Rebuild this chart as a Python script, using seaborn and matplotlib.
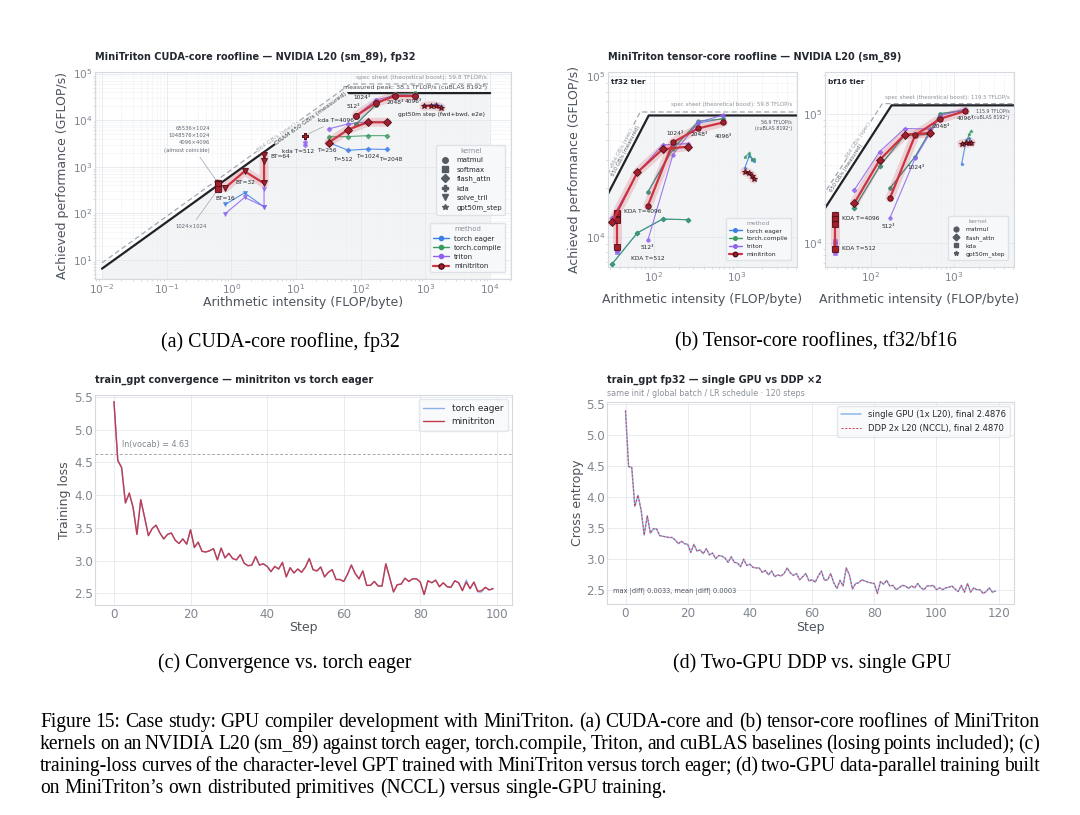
#!/usr/bin/env python3
"""
Figure 15 of the MiniTriton case study, redrawn.

(a) CUDA-core roofline (fp32), (b) tensor-core rooflines (tf32 / bf16),
(c) training loss minitriton vs torch eager, (d) single GPU vs DDP x2,
plus the sub-captions and the figure caption underneath.
"""

import math

import matplotlib

matplotlib.use("Agg")  # headless

import matplotlib.pyplot as plt
import seaborn as sns
from matplotlib.lines import Line2D

# ------------------------------------------------------------------ data
# (a) CUDA-core roofline, fp32 -- intensity in FLOP/byte, perf in GFLOP/s
A_BW_SPEC, A_BW_MEAS = 864, 650
A_PEAK_SPEC, A_PEAK_MEAS = 59800, 38100

A_SOFTMAX_AI = [0.625, 0.625, 0.625, 0.625]
A_SOFTMAX_MINI = [445, 430, 418, 330]

A_TRIL_AI = [0.8, 1.6, 3.2, 3.2, 3.2]
A_TRIL_MINI = [352, 800, 440, 1300, 1800]
A_TRIL_EAGER_AI = [0.8, 1.6, 3.2]
A_TRIL_EAGER = [155, 275, 138]
A_TRIL_TRITON_AI = [0.8, 1.6, 3.2, 3.2]
A_TRIL_TRITON = [98, 220, 140, 330]

A_KDA_AI = [13.7, 13.7]
A_KDA_MINI = [4550, 4650]
A_KDA_TRITON = [3400, 3000]

A_FA_AI = [32, 64, 128, 256]
A_FA_MINI = [3300, 6300, 9000, 9000]
A_FA_EAGER = [3300, 2250, 2400, 2350]
A_FA_COMPILE = [4400, 4450, 4650, 4650]
A_FA_TRITON = [6500, 8300, 9200, 9000]

A_MM_AI = [85.3, 170.7, 341.3, 682.7]
A_MM_MINI = [12500, 23500, 33000, 33000]
A_MM_EAGER = [8300, 21500, 36500, 37000]
A_MM_COMPILE = [8300, 21500, 37000, 37500]
A_MM_TRITON = [12600, 27000, 34000, 34000]

A_GPT_AI = [950, 1200, 1450, 1750]
A_GPT_MINI = [19800, 20500, 20000, 18500]
A_GPT_EAGER = [21000, 21200, 22000, 20500]

# (b) tensor-core rooflines
TF32_PEAK_SPEC, TF32_PEAK_MEAS = 59800, 56900
BF16_PEAK_SPEC, BF16_PEAK_MEAS = 119500, 115900

TF32_MM_AI = [85.3, 170.7, 341.3, 682.7]
TF32_MM_MINI = [15600, 38700, 47300, 51500]
TF32_MM_EAGER = [19000, 36000, 51000, 54500]
TF32_MM_COMPILE = [19000, 35000, 52600, 54100]
TF32_MM_TRITON = [9500, 32500, 51500, 57300]

TF32_FA_AI = [32, 64, 128, 256]
TF32_FA_MINI = [12400, 25200, 35100, 36400]
TF32_FA_EAGER = [6800, 10600, 12900, 12800]
TF32_FA_COMPILE = [6800, 10600, 12900, 12800]
TF32_FA_TRITON = [13100, 25000, 37300, 38000]

TF32_KDA_AI = [37, 37, 37, 37]
TF32_KDA_MINI = [14000, 12900, 12700, 8600]
TF32_KDA_TRITON_AI = [37, 37]
TF32_KDA_TRITON = [8300, 8000]

TF32_GPT_AI = [1230, 1400, 1520, 1580]
TF32_GPT_MINI = [25500, 24800, 23900, 22900]
TF32_GPT_EAGER = [26700, 32000, 30500, 29500]
TF32_GPT_COMPILE = [31300, 33100, 30100, 30500]

BF16_MM_AI = [170.7, 341.3, 682.7, 1365.3]
BF16_MM_MINI = [22200, 68000, 91300, 105000]
BF16_MM_EAGER = [26500, 46400, 100000, 106000]
BF16_MM_COMPILE = [26500, 46400, 100000, 106000]
BF16_MM_TRITON = [15600, 45100, 96000, 109000]

BF16_FA_AI = [64, 128, 256, 512]
BF16_FA_MINI = [20300, 43700, 68900, 70500]
BF16_FA_EAGER = [18600, 39000, 68000, 69000]
BF16_FA_COMPILE = [18600, 39000, 68000, 69000]
BF16_FA_TRITON = [25700, 50700, 76700, 76000]

BF16_KDA_AI = [38, 38, 38, 38]
BF16_KDA_MINI = [16500, 15300, 14100, 9000]
BF16_KDA_TRITON_AI = [38, 38, 38]
BF16_KDA_TRITON = [10300, 9800, 8400]

BF16_GPT_AI = [1230, 1400, 1520, 1600]
BF16_GPT_MINI = [58500, 59000, 59500, 59500]
BF16_GPT_EAGER = [41000, 63000, 65000, 60000]
BF16_GPT_COMPILE = [58000, 60000, 70000, 73500]

# (c) train_gpt convergence, 100 steps
C_STEPS = list(range(100))
C_MINITRITON = [
    5.43, 4.53, 4.42, 3.88, 4.03, 3.81, 3.40, 3.93, 3.66, 3.38,
    3.49, 3.54, 3.42, 3.33, 3.40, 3.42, 3.31, 3.26, 3.33, 3.25,
    3.47, 3.20, 3.28, 3.14, 3.13, 3.15, 3.18, 3.01, 3.19, 3.04,
    3.11, 3.03, 3.01, 3.09, 2.96, 2.92, 2.93, 3.06, 2.93, 2.95,
    2.91, 2.83, 2.91, 2.87, 2.97, 2.75, 2.89, 2.81, 2.87, 2.82,
    2.90, 3.03, 2.86, 2.84, 2.90, 2.75, 2.82, 2.86, 2.71, 2.71,
    2.68, 2.79, 2.93, 2.80, 2.72, 2.84, 2.62, 2.62, 2.68, 2.61,
    2.61, 2.95, 2.74, 2.52, 2.63, 2.64, 2.73, 2.68, 2.72, 2.72,
    2.67, 2.48, 2.69, 2.66, 2.70, 2.60, 2.66, 2.60, 2.59, 2.69,
    2.66, 2.54, 2.67, 2.57, 2.67, 2.53, 2.54, 2.59, 2.55, 2.57,
]
C_EAGER = [
    5.43, 4.53, 4.42, 3.88, 4.03, 3.81, 3.40, 3.93, 3.66, 3.38,
    3.49, 3.54, 3.42, 3.33, 3.40, 3.42, 3.31, 3.26, 3.33, 3.25,
    3.47, 3.20, 3.28, 3.14, 3.13, 3.15, 3.18, 3.01, 3.19, 3.04,
    3.11, 3.03, 3.01, 3.09, 2.96, 2.92, 2.93, 3.06, 2.93, 2.95,
    2.91, 2.83, 2.91, 2.87, 2.97, 2.75, 2.89, 2.81, 2.87, 2.82,
    2.90, 3.03, 2.86, 2.84, 2.90, 2.75, 2.82, 2.86, 2.71, 2.71,
    2.68, 2.79, 2.93, 2.80, 2.72, 2.84, 2.62, 2.62, 2.68, 2.61,
    2.61, 2.95, 2.74, 2.52, 2.63, 2.64, 2.73, 2.68, 2.72, 2.72,
    2.67, 2.48, 2.69, 2.66, 2.70, 2.60, 2.66, 2.60, 2.59, 2.69,
    2.66, 2.54, 2.70, 2.57, 2.67, 2.52, 2.52, 2.59, 2.55, 2.57,
]
C_LN_VOCAB = 4.63

# (d) single GPU vs DDP x2, 120 steps
D_STEPS = list(range(120))
D_SINGLE = [
    5.39, 4.49, 4.48, 3.85, 4.03, 3.80, 3.39, 3.70, 3.42, 3.49,
    3.49, 3.38, 3.37, 3.36, 3.35, 3.35, 3.31, 3.25, 3.29, 3.25,
    3.24, 3.11, 3.24, 3.13, 3.15, 3.09, 3.17, 3.07, 3.10, 3.01,
    3.06, 3.05, 3.02, 2.95, 3.04, 2.95, 2.94, 2.88, 3.00, 2.90,
    2.92, 2.87, 2.86, 2.86, 2.79, 2.82, 2.75, 2.81, 2.72, 2.75,
    2.73, 2.77, 2.86, 2.78, 2.74, 2.77, 2.67, 2.72, 2.77, 2.65,
    2.67, 2.63, 2.73, 2.81, 2.66, 2.67, 2.77, 2.62, 2.53, 2.66,
    2.57, 2.86, 2.75, 2.52, 2.61, 2.62, 2.67, 2.65, 2.63, 2.62,
    2.61, 2.45, 2.64, 2.60, 2.66, 2.57, 2.58, 2.51, 2.54, 2.58,
    2.57, 2.53, 2.57, 2.54, 2.61, 2.54, 2.51, 2.57, 2.57, 2.58,
    2.51, 2.54, 2.51, 2.54, 2.55, 2.57, 2.52, 2.48, 2.58, 2.47,
    2.61, 2.47, 2.54, 2.51, 2.51, 2.45, 2.48, 2.54, 2.47, 2.4876,
]
D_DDP = [
    5.39, 4.49, 4.48, 3.85, 4.03, 3.80, 3.39, 3.70, 3.42, 3.49,
    3.49, 3.38, 3.37, 3.36, 3.35, 3.35, 3.31, 3.25, 3.29, 3.25,
    3.24, 3.11, 3.24, 3.13, 3.15, 3.09, 3.17, 3.07, 3.10, 3.01,
    3.06, 3.05, 3.02, 2.95, 3.04, 2.95, 2.94, 2.88, 3.00, 2.90,
    2.92, 2.87, 2.86, 2.86, 2.79, 2.82, 2.75, 2.81, 2.72, 2.75,
    2.73, 2.77, 2.86, 2.78, 2.74, 2.77, 2.67, 2.72, 2.77, 2.65,
    2.67, 2.63, 2.73, 2.81, 2.66, 2.67, 2.77, 2.62, 2.53, 2.66,
    2.57, 2.86, 2.75, 2.52, 2.61, 2.62, 2.67, 2.65, 2.63, 2.62,
    2.61, 2.45, 2.64, 2.60, 2.66, 2.57, 2.58, 2.51, 2.54, 2.58,
    2.57, 2.53, 2.57, 2.54, 2.61, 2.54, 2.51, 2.57, 2.57, 2.58,
    2.51, 2.54, 2.51, 2.54, 2.55, 2.57, 2.52, 2.48, 2.58, 2.47,
    2.61, 2.47, 2.54, 2.51, 2.51, 2.45, 2.48, 2.54, 2.47, 2.4870,
]

SUBCAPTIONS = [
    "(a) CUDA-core roofline, fp32",
    "(b) Tensor-core rooflines, tf32/bf16",
    "(c) Convergence vs. torch eager",
    "(d) Two-GPU DDP vs. single GPU",
]
CAPTION_LINES = [
    "Figure 15: Case study: GPU compiler development with MiniTriton. (a) CUDA-core and (b) tensor-core rooflines of MiniTriton",
    "kernels on an NVIDIA L20 (sm_89) against torch eager, torch.compile, Triton, and cuBLAS baselines (losing points included); (c)",
    "training-loss curves of the character-level GPT trained with MiniTriton versus torch eager; (d) two-GPU data-parallel training built",
    "on MiniTriton\u2019s own distributed primitives (NCCL) versus single-GPU training.",
]

# ------------------------------------------------------------------ style
C_EAGER_COL = "#3d7ee6"
C_COMPILE_COL = "#3a9a60"
C_TRITON_COL = "#8e63f0"
C_MINI_COL = "#cc3340"
C_MINI_FACE = "#a2202e"
C_MINI_EDGE = "#4d0e16"
METHOD_COLORS = {
    "torch eager": C_EAGER_COL,
    "torch.compile": C_COMPILE_COL,
    "triton": C_TRITON_COL,
    "minitriton": C_MINI_COL,
}
INK = "#23272e"
LABEL = "#4d535c"
TICK = "#80868f"
NOTE = "#5f656e"
SPINE = "#d6dae0"
GRID = "#e4e8ed"
GRID_MINOR = "#eff1f4"
SHADE = "#f3f4f6"
SERIF = "Liberation Serif"

W, H = 1080, 815

sns.set_theme(style="whitegrid")
plt.rcParams["font.family"] = ["DejaVu Sans"]
plt.rcParams["mathtext.fontset"] = "dejavusans"

fig = plt.figure(figsize=(W / 100, H / 100), dpi=100)
fig.patch.set_facecolor("white")


def px_axes(l, t, r, b):
    return fig.add_axes([l / W, 1 - b / H, (r - l) / W, (b - t) / H])


def px_text(x, y, s, **kw):
    return fig.text(x / W, 1 - y / H, s, **kw)


def style_axes(ax, log=True, labelsize=7.6):
    ax.set_facecolor("white")
    for sp in ax.spines.values():
        sp.set_color(SPINE)
        sp.set_linewidth(0.8)
    ax.grid(True, which="major", color=GRID, lw=0.6)
    if log:
        ax.grid(True, which="minor", color=GRID_MINOR, lw=0.4)
        ax.tick_params(which="minor", bottom=True, left=True, length=1.5,
                       width=0.4, color="#b9bec5")
    ax.tick_params(which="major", labelsize=labelsize, labelcolor=TICK, color=SPINE,
                   length=0)
    ax.tick_params(axis="x", which="both", pad=2.0)
    ax.tick_params(axis="y", which="both", pad=1.5)
    ax.set_axisbelow(True)


def draw(ax, x, y, method, marker, ms=3.0):
    """One kernel sweep for one method; minitriton gets the red glow."""
    if method == "minitriton":
        sns.lineplot(x=x, y=y, ax=ax, color=C_MINI_COL, lw=6.5, alpha=0.18,
                     sort=False, estimator=None, zorder=4)
        sns.lineplot(x=x, y=y, ax=ax, color=C_MINI_COL, lw=1.6, marker=marker,
                     ms=ms + 1.3, mfc=C_MINI_FACE, mec=C_MINI_EDGE, mew=0.6,
                     sort=False, estimator=None, zorder=5)
    else:
        col = METHOD_COLORS[method]
        sns.lineplot(x=x, y=y, ax=ax, color=col, lw=0.8, marker=marker, ms=ms,
                     mec=col, mew=0.4, alpha=0.85, sort=False,
                     estimator=None, zorder=3)


def roofline(ax, bw_spec, peak_spec, bw_meas, peak_meas, x0, x1, ymin):
    xs_s = [x0, peak_spec / bw_spec, x1]
    ys_s = [bw_spec * x0, peak_spec, peak_spec]
    xs_m = [x0, peak_meas / bw_meas, x1]
    ys_m = [bw_meas * x0, peak_meas, peak_meas]
    ax.fill_between(xs_m, ys_m, ymin, color=SHADE, zorder=0.5, lw=0)
    ax.plot(xs_s, ys_s, color="#a3a8ae", lw=0.9, ls=(0, (4, 2.5)), zorder=2)
    ax.plot(xs_m, ys_m, color="#1f2226", lw=1.6, zorder=2)


def slope_angle(ax):
    """Screen angle of a y ~ x line on this log-log axes."""
    x0, x1 = ax.get_xlim()
    y0, y1 = ax.get_ylim()
    bb = ax.get_position()
    dx = bb.width * W / math.log10(x1 / x0)
    dy = bb.height * H / math.log10(y1 / y0)
    return math.degrees(math.atan2(dy, dx))


def note(ax, x, y, s, size=4.2, color=NOTE, **kw):
    ax.text(x, y, s, fontsize=size, color=color, zorder=6, **kw)


INLINE_BOX = dict(boxstyle="square,pad=0.15", facecolor="white", edgecolor="none")


def kernel_legend(ax, items, size, anchor, loc):
    handles = [Line2D([], [], ls="none", marker=m, color="#555b63", ms=size * 0.8,
                      label=name) for name, m in items]
    leg = ax.legend(handles=handles, title="kernel", loc=loc, bbox_to_anchor=anchor,
                    fontsize=size, title_fontsize=size, frameon=True,
                    facecolor="#f8f9fb", edgecolor="#dde1e6", framealpha=0.95,
                    handlelength=1.6, borderpad=0.5, labelspacing=0.45)
    leg.get_title().set_color("#8a9099")
    for t in leg.get_texts():
        t.set_color(INK)
    return leg


def method_legend(ax, size, anchor, loc):
    handles = []
    for name in ["torch eager", "torch.compile", "triton", "minitriton"]:
        if name == "minitriton":
            h = Line2D([], [], color=C_MINI_COL, lw=1.6, marker="o", ms=size * 0.75,
                       mfc=C_MINI_FACE, mec=C_MINI_EDGE, label=name)
        else:
            h = Line2D([], [], color=METHOD_COLORS[name], lw=1.0, marker="o",
                       ms=size * 0.6, label=name)
        handles.append(h)
    leg = ax.legend(handles=handles, title="method", loc=loc, bbox_to_anchor=anchor,
                    fontsize=size, title_fontsize=size, frameon=True,
                    facecolor="#f8f9fb", edgecolor="#dde1e6", framealpha=0.95,
                    handlelength=2.2, borderpad=0.5, labelspacing=0.45)
    leg.get_title().set_color("#8a9099")
    for t in leg.get_texts():
        t.set_color(INK)
    return leg


# ================================================================ (a)
ax = px_axes(95, 72, 511, 279)
ax.set_xscale("log")
ax.set_yscale("log")
A_XLIM, A_YLIM = (0.0078, 2.1e4), (3.9, 1.08e5)
roofline(ax, A_BW_SPEC, A_PEAK_SPEC, A_BW_MEAS, A_PEAK_MEAS, 0.01, 1e4, A_YLIM[0])

draw(ax, A_TRIL_EAGER_AI, A_TRIL_EAGER, "torch eager", "v")
draw(ax, A_TRIL_TRITON_AI, A_TRIL_TRITON, "triton", "v")
draw(ax, A_TRIL_AI, A_TRIL_MINI, "minitriton", "v")
draw(ax, A_SOFTMAX_AI, A_SOFTMAX_MINI, "minitriton", "s")
draw(ax, A_KDA_AI, A_KDA_TRITON, "triton", "P")
draw(ax, A_KDA_AI, A_KDA_MINI, "minitriton", "P")
draw(ax, A_FA_AI, A_FA_EAGER, "torch eager", "D", ms=2.6)
draw(ax, A_FA_AI, A_FA_COMPILE, "torch.compile", "D", ms=2.6)
draw(ax, A_FA_AI, A_FA_TRITON, "triton", "D", ms=2.6)
draw(ax, A_FA_AI, A_FA_MINI, "minitriton", "D", ms=2.8)
draw(ax, A_MM_AI, A_MM_EAGER, "torch eager", "o")
draw(ax, A_MM_AI, A_MM_COMPILE, "torch.compile", "o")
draw(ax, A_MM_AI, A_MM_TRITON, "triton", "o")
draw(ax, A_MM_AI, A_MM_MINI, "minitriton", "o")
draw(ax, A_GPT_AI, A_GPT_EAGER, "torch eager", "*")
draw(ax, A_GPT_AI, A_GPT_MINI, "minitriton", "*")

ax.set_xlim(*A_XLIM)
ax.set_ylim(*A_YLIM)
style_axes(ax)
ang = slope_angle(ax)
note(ax, 5.0, 864 * 5.0, "864 GB/s (spec)", color="#a0a5ac", rotation=ang,
     rotation_mode="anchor", ha="center", va="center", size=4.2, bbox=INLINE_BOX)
note(ax, 17, 650 * 17, "DRAM 650 GB/s (measured)", color="#3f444c", rotation=ang,
     rotation_mode="anchor", ha="center", va="center", size=4.5,
     bbox=dict(INLINE_BOX, facecolor=SHADE))
note(ax, 9000, 83000, "spec sheet (theoretical boost): 59.8 TFLOP/s",
     color="#8d939a", ha="right", va="center")
note(ax, 9000, 51000, "measured peak: 38.1 TFLOP/s (cuBLAS 8192\u00b3)",
     color="#4a4f57", ha="right", va="center", size=4.5)
ax.annotate("65536\u00d71024\n1048576\u00d71024\n4096\u00d74096\n(almost coincide)",
            xy=(0.625, 445), xytext=(0.47, 3900), ha="right", va="center",
            fontsize=3.8, color=NOTE, linespacing=1.6,
            arrowprops=dict(arrowstyle="-", color="#a0a5ab", lw=0.5,
                            shrinkA=1, shrinkB=1))
ax.annotate("1024\u00d71024", xy=(0.625, 330), xytext=(0.24, 52),
            ha="center", va="center", fontsize=3.8, color=NOTE,
            arrowprops=dict(arrowstyle="-", color="#a0a5ab", lw=0.5,
                            shrinkA=1, shrinkB=1))
ax.annotate("kda T=4096", xy=(13.7, 4650), xytext=(42, 9900),
            ha="center", va="center", fontsize=4.2, color=INK,
            arrowprops=dict(arrowstyle="-", color="#a0a5ab", lw=0.5,
                            shrinkA=1, shrinkB=2))
note(ax, 10.6, 2140, "kda T=512", ha="center", va="center", color=INK)
note(ax, 0.8, 210, "BT=16", ha="center", va="center", color=INK)
note(ax, 1.62, 450, "BT=32", ha="center", va="center", color=INK)
note(ax, 3.95, 1620, "BT=64", ha="left", va="center", color=INK)
note(ax, 30, 2250, "T=256", ha="center", va="center", color=INK)
note(ax, 53, 1450, "T=512", ha="center", va="center", color=INK)
note(ax, 127, 1650, "T=1024", ha="center", va="center", color=INK)
note(ax, 293, 1450, "T=2048", ha="center", va="center", color=INK)
note(ax, 78, 20000, "512\u00b3", ha="center", va="center", color=INK)
note(ax, 105, 31000, "1024\u00b3", ha="center", va="center", color=INK)
note(ax, 340, 24500, "2048\u00b3", ha="center", va="center", color=INK)
note(ax, 660, 25000, "4096\u00b3", ha="center", va="center", color=INK)
note(ax, 1740, 13300, "gpt50m step (fwd+bwd, e2e)", ha="center", va="center",
     color=INK)

leg_k = kernel_legend(ax, [("matmul", "o"), ("softmax", "s"), ("flash_attn", "D"),
                           ("kda", "P"), ("solve_tril", "v"), ("gpt50m_step", "*")],
                      5.0, (0.995, 0.665), "upper right")
ax.add_artist(leg_k)
method_legend(ax, 5.0, (0.995, 0.015), "lower right")

ax.set_xlabel("Arithmetic intensity (FLOP/byte)", fontsize=9, color=LABEL)
ax.set_ylabel("Achieved performance (GFLOP/s)", fontsize=9, color=LABEL)
ax.xaxis.set_label_coords(0.5, -0.08)
ax.yaxis.set_label_coords(-0.0625, 0.5)
px_text(95, 57, "MiniTriton CUDA-core roofline \u2014 NVIDIA L20 (sm_89), fp32",
        fontsize=7, fontweight="bold", color=INK, ha="left", va="center")


# ================================================================ (b)
def tensor_panel(ax, tier, peak_spec, peak_meas, ylim, series, labels):
    ax.set_xscale("log")
    ax.set_yscale("log")
    xlim = (28.5, 5200)
    roofline(ax, A_BW_SPEC, peak_spec, A_BW_MEAS, peak_meas, 10, xlim[1], ylim[0])
    for x, y, method, marker in series:
        draw(ax, x, y, method, marker, ms=2.6)
    ax.set_xlim(*xlim)
    ax.set_ylim(*ylim)
    style_axes(ax)
    ax.text(0.015, 0.965, f"{tier} tier", transform=ax.transAxes, fontsize=5.3,
            fontweight="bold", color=INK, ha="left", va="top")
    ang = slope_angle(ax)
    for x, y, s, kw in labels:
        kw = dict(kw)
        if kw.pop("diag", False):
            kw.update(rotation=ang, rotation_mode="anchor", ha="center", va="center")
        note(ax, x, y, s, **kw)
    ax.set_xlabel("Arithmetic intensity (FLOP/byte)", fontsize=9, color=LABEL)
    ax.xaxis.set_label_coords(0.5, -0.135)


ax_tf = px_axes(608, 72, 797, 267)
tensor_panel(
    ax_tf, "tf32", TF32_PEAK_SPEC, TF32_PEAK_MEAS, (6500, 1.06e5),
    [
        (TF32_KDA_TRITON_AI, TF32_KDA_TRITON, "triton", "s"),
        (TF32_KDA_AI, TF32_KDA_MINI, "minitriton", "s"),
        (TF32_FA_AI, TF32_FA_EAGER, "torch eager", "D"),
        (TF32_FA_AI, TF32_FA_COMPILE, "torch.compile", "D"),
        (TF32_FA_AI, TF32_FA_TRITON, "triton", "D"),
        (TF32_FA_AI, TF32_FA_MINI, "minitriton", "D"),
        (TF32_MM_AI, TF32_MM_EAGER, "torch eager", "o"),
        (TF32_MM_AI, TF32_MM_COMPILE, "torch.compile", "o"),
        (TF32_MM_AI, TF32_MM_TRITON, "triton", "o"),
        (TF32_MM_AI, TF32_MM_MINI, "minitriton", "o"),
        (TF32_GPT_AI, TF32_GPT_EAGER, "torch eager", "*"),
        (TF32_GPT_AI, TF32_GPT_COMPILE, "torch.compile", "*"),
        (TF32_GPT_AI, TF32_GPT_MINI, "minitriton", "*"),
    ],
    [
        (42, 864 * 42, "864 GB/s (spec)",
         dict(diag=True, color="#9aa0a7", size=3.8, bbox=INLINE_BOX)),
        (47, 650 * 47 * 1.13, "650 GB/s (measured)",
         dict(diag=True, color="#5f656e", size=3.8)),
        (4500, 66500, "spec sheet (theoretical boost): 59.8 TFLOP/s",
         dict(color="#8d939a", size=4.0, ha="right", va="center")),
        (4500, 49500, "56.9 TFLOP/s\n(cuBLAS 8192\u00b3)",
         dict(color="#4a4f57", size=3.4, ha="right", va="center", multialignment="right")),
        (182, 44000, "1024\u00b3", dict(color=INK, ha="center", va="center")),
        (357, 43500, "2048\u00b3", dict(color=INK, ha="center", va="center")),
        (690, 42400, "4096\u00b3", dict(color=INK, ha="center", va="center")),
        (84, 8630, "512\u00b3", dict(color=INK, ha="center", va="center")),
        (44, 14300, "KDA T=4096", dict(color=INK, ha="left", va="center")),
        (53, 7380, "KDA T=512", dict(color=INK, ha="left", va="center")),
    ],
)
method_legend(ax_tf, 4.3, (0.985, 0.02), "lower right")
ax_tf.set_ylabel("Achieved performance (GFLOP/s)", fontsize=9, color=LABEL)
ax_tf.yaxis.set_label_coords(-0.143, 0.5)

ax_bf = px_axes(825, 72, 1014, 267)
tensor_panel(
    ax_bf, "bf16", BF16_PEAK_SPEC, BF16_PEAK_MEAS, (6500, 2.1e5),
    [
        (BF16_KDA_TRITON_AI, BF16_KDA_TRITON, "triton", "s"),
        (BF16_KDA_AI, BF16_KDA_MINI, "minitriton", "s"),
        (BF16_FA_AI, BF16_FA_EAGER, "torch eager", "D"),
        (BF16_FA_AI, BF16_FA_COMPILE, "torch.compile", "D"),
        (BF16_FA_AI, BF16_FA_TRITON, "triton", "D"),
        (BF16_FA_AI, BF16_FA_MINI, "minitriton", "D"),
        (BF16_MM_AI, BF16_MM_EAGER, "torch eager", "o"),
        (BF16_MM_AI, BF16_MM_COMPILE, "torch.compile", "o"),
        (BF16_MM_AI, BF16_MM_TRITON, "triton", "o"),
        (BF16_MM_AI, BF16_MM_MINI, "minitriton", "o"),
        (BF16_GPT_AI, BF16_GPT_EAGER, "torch eager", "*"),
        (BF16_GPT_AI, BF16_GPT_COMPILE, "torch.compile", "*"),
        (BF16_GPT_AI, BF16_GPT_MINI, "minitriton", "*"),
    ],
    [
        (72, 864 * 72, "864 GB/s (spec)",
         dict(diag=True, color="#9aa0a7", size=3.8, bbox=INLINE_BOX)),
        (51, 650 * 51 * 1.15, "650 GB/s (measured)",
         dict(diag=True, color="#5f656e", size=3.8)),
        (4600, 133000, "spec sheet (theoretical boost): 119.5 TFLOP/s",
         dict(color="#8d939a", size=4.0, ha="right", va="center")),
        (4600, 99000, "115.9 TFLOP/s\n(cuBLAS 8192\u00b3)",
         dict(color="#4a4f57", size=3.4, ha="right", va="center", multialignment="right")),
        (354, 38400, "1024\u00b3", dict(color=INK, ha="center", va="center")),
        (697, 78900, "2048\u00b3", dict(color=INK, ha="center", va="center")),
        (1370, 92500, "4096\u00b3", dict(color=INK, ha="center", va="center")),
        (164, 13400, "512\u00b3", dict(color=INK, ha="center", va="center")),
        (46, 15300, "KDA T=4096", dict(color=INK, ha="left", va="center")),
        (46, 9040, "KDA T=512", dict(color=INK, ha="left", va="center")),
    ],
)
kernel_legend(ax_bf, [("matmul", "o"), ("flash_attn", "D"), ("kda", "s"),
                      ("gpt50m_step", "*")], 4.3, (0.985, 0.02), "lower right")
ax_bf.set_ylabel("")
px_text(608, 57, "MiniTriton tensor-core roofline \u2014 NVIDIA L20 (sm_89)",
        fontsize=7, fontweight="bold", color=INK, ha="left", va="center")


# ================================================================ (c)
ax = px_axes(95, 395, 512, 605)
sns.lineplot(x=C_STEPS, y=C_EAGER, ax=ax, color="#8cafed", lw=1.0, label="torch eager")
sns.lineplot(x=C_STEPS, y=C_MINITRITON, ax=ax, color="#c33a4c", lw=1.0, label="minitriton")
ax.axhline(C_LN_VOCAB, color="#a4a9b0", lw=0.7, ls=(0, (3, 2)), zorder=1)
ax.text(2, C_LN_VOCAB + 0.07, f"ln(vocab) = {C_LN_VOCAB:.2f}", fontsize=5.8,
        color="#80868f", ha="left", va="bottom")
ax.set_xlim(-4.95, 103.95)
ax.set_ylim(2.32, 5.53)
ax.set_xticks(range(0, 101, 20))
ax.set_yticks([2.5, 3.0, 3.5, 4.0, 4.5, 5.0, 5.5])
style_axes(ax, log=False, labelsize=8.6)
leg = ax.legend(loc="upper right", fontsize=6.4, frameon=True, facecolor="#f8f9fb",
                edgecolor="#dde1e6", handlelength=2.4, borderpad=0.5)
for t in leg.get_texts():
    t.set_color(INK)
ax.set_xlabel("Step", fontsize=9, color=LABEL)
ax.set_ylabel("Training loss", fontsize=9, color=LABEL)
ax.xaxis.set_label_coords(0.5, -0.075)
ax.yaxis.set_label_coords(-0.058, 0.5)
px_text(95, 380, "train_gpt convergence \u2014 minitriton vs torch eager",
        fontsize=7, fontweight="bold", color=INK, ha="left", va="center")


# ================================================================ (d)
ax = px_axes(607, 402, 1014, 604)
sns.lineplot(x=D_STEPS, y=D_SINGLE, ax=ax, color="#8db6ef", lw=1.1,
             label=f"single GPU (1x L20), final {D_SINGLE[-1]:.4f}")
sns.lineplot(x=D_STEPS, y=D_DDP, ax=ax, color="#d0414f", lw=0.7, ls=(0, (2.2, 1.6)),
             label=f"DDP 2x L20 (NCCL), final {D_DDP[-1]:.4f}")
ax.set_xlim(-5.95, 124.95)
ax.set_ylim(2.28, 5.53)
ax.set_xticks(range(0, 121, 20))
ax.set_yticks([2.5, 3.0, 3.5, 4.0, 4.5, 5.0, 5.5])
style_axes(ax, log=False, labelsize=8.6)
leg = ax.legend(loc="upper right", fontsize=6.0, frameon=True, facecolor="#f8f9fb",
                edgecolor="#dde1e6", handlelength=2.4, borderpad=0.5)
for t in leg.get_texts():
    t.set_color(INK)
ax.text(0.015, 0.045, "max |diff| 0.0033, mean |diff| 0.0003", transform=ax.transAxes,
        fontsize=4.8, color="#4d535c", ha="left", va="bottom")
ax.set_xlabel("Step", fontsize=9, color=LABEL)
ax.set_ylabel("Cross entropy", fontsize=9, color=LABEL)
ax.xaxis.set_label_coords(0.5, -0.084)
ax.yaxis.set_label_coords(-0.0565, 0.5)
px_text(607, 380, "train_gpt fp32 \u2014 single GPU vs DDP \u00d72",
        fontsize=7, fontweight="bold", color=INK, ha="left", va="center")
px_text(607, 393, "same init / global batch / LR schedule \u00b7 120 steps",
        fontsize=5.8, color="#8a9099", ha="left", va="center")


# ================================================================ captions
for (cx, cy), s in zip([(280, 342), (816, 342), (285, 663), (812, 663)], SUBCAPTIONS):
    px_text(cx, cy, s, fontsize=14.3, family=SERIF, color="black",
            ha="center", va="center")

renderer = fig.canvas.get_renderer()
CAP_X0, CAP_X1 = 40, 1040

# size the caption so that its first line fills the text width naturally
probe = px_text(0, 0, CAPTION_LINES[0], fontsize=13, family=SERIF)
cap_size = min(14.5, 13 * (CAP_X1 - CAP_X0) / probe.get_window_extent(renderer).width)
probe.remove()

for i, line in enumerate(CAPTION_LINES):
    base = 727 + 22 * i
    words = line.split(" ")
    texts = [px_text(0, base, w, fontsize=cap_size, family=SERIF, color="black",
                     ha="left", va="baseline") for w in words]
    widths = [t.get_window_extent(renderer).width for t in texts]
    if i < len(CAPTION_LINES) - 1:
        gap = (CAP_X1 - CAP_X0 - sum(widths)) / (len(words) - 1)
    else:
        gap = cap_size * 100 / 72 * 0.25
    x = CAP_X0
    for t, w in zip(texts, widths):
        t.set_x(x / W)
        x += w + gap

fig.savefig("out.png", dpi=100, facecolor="white")
